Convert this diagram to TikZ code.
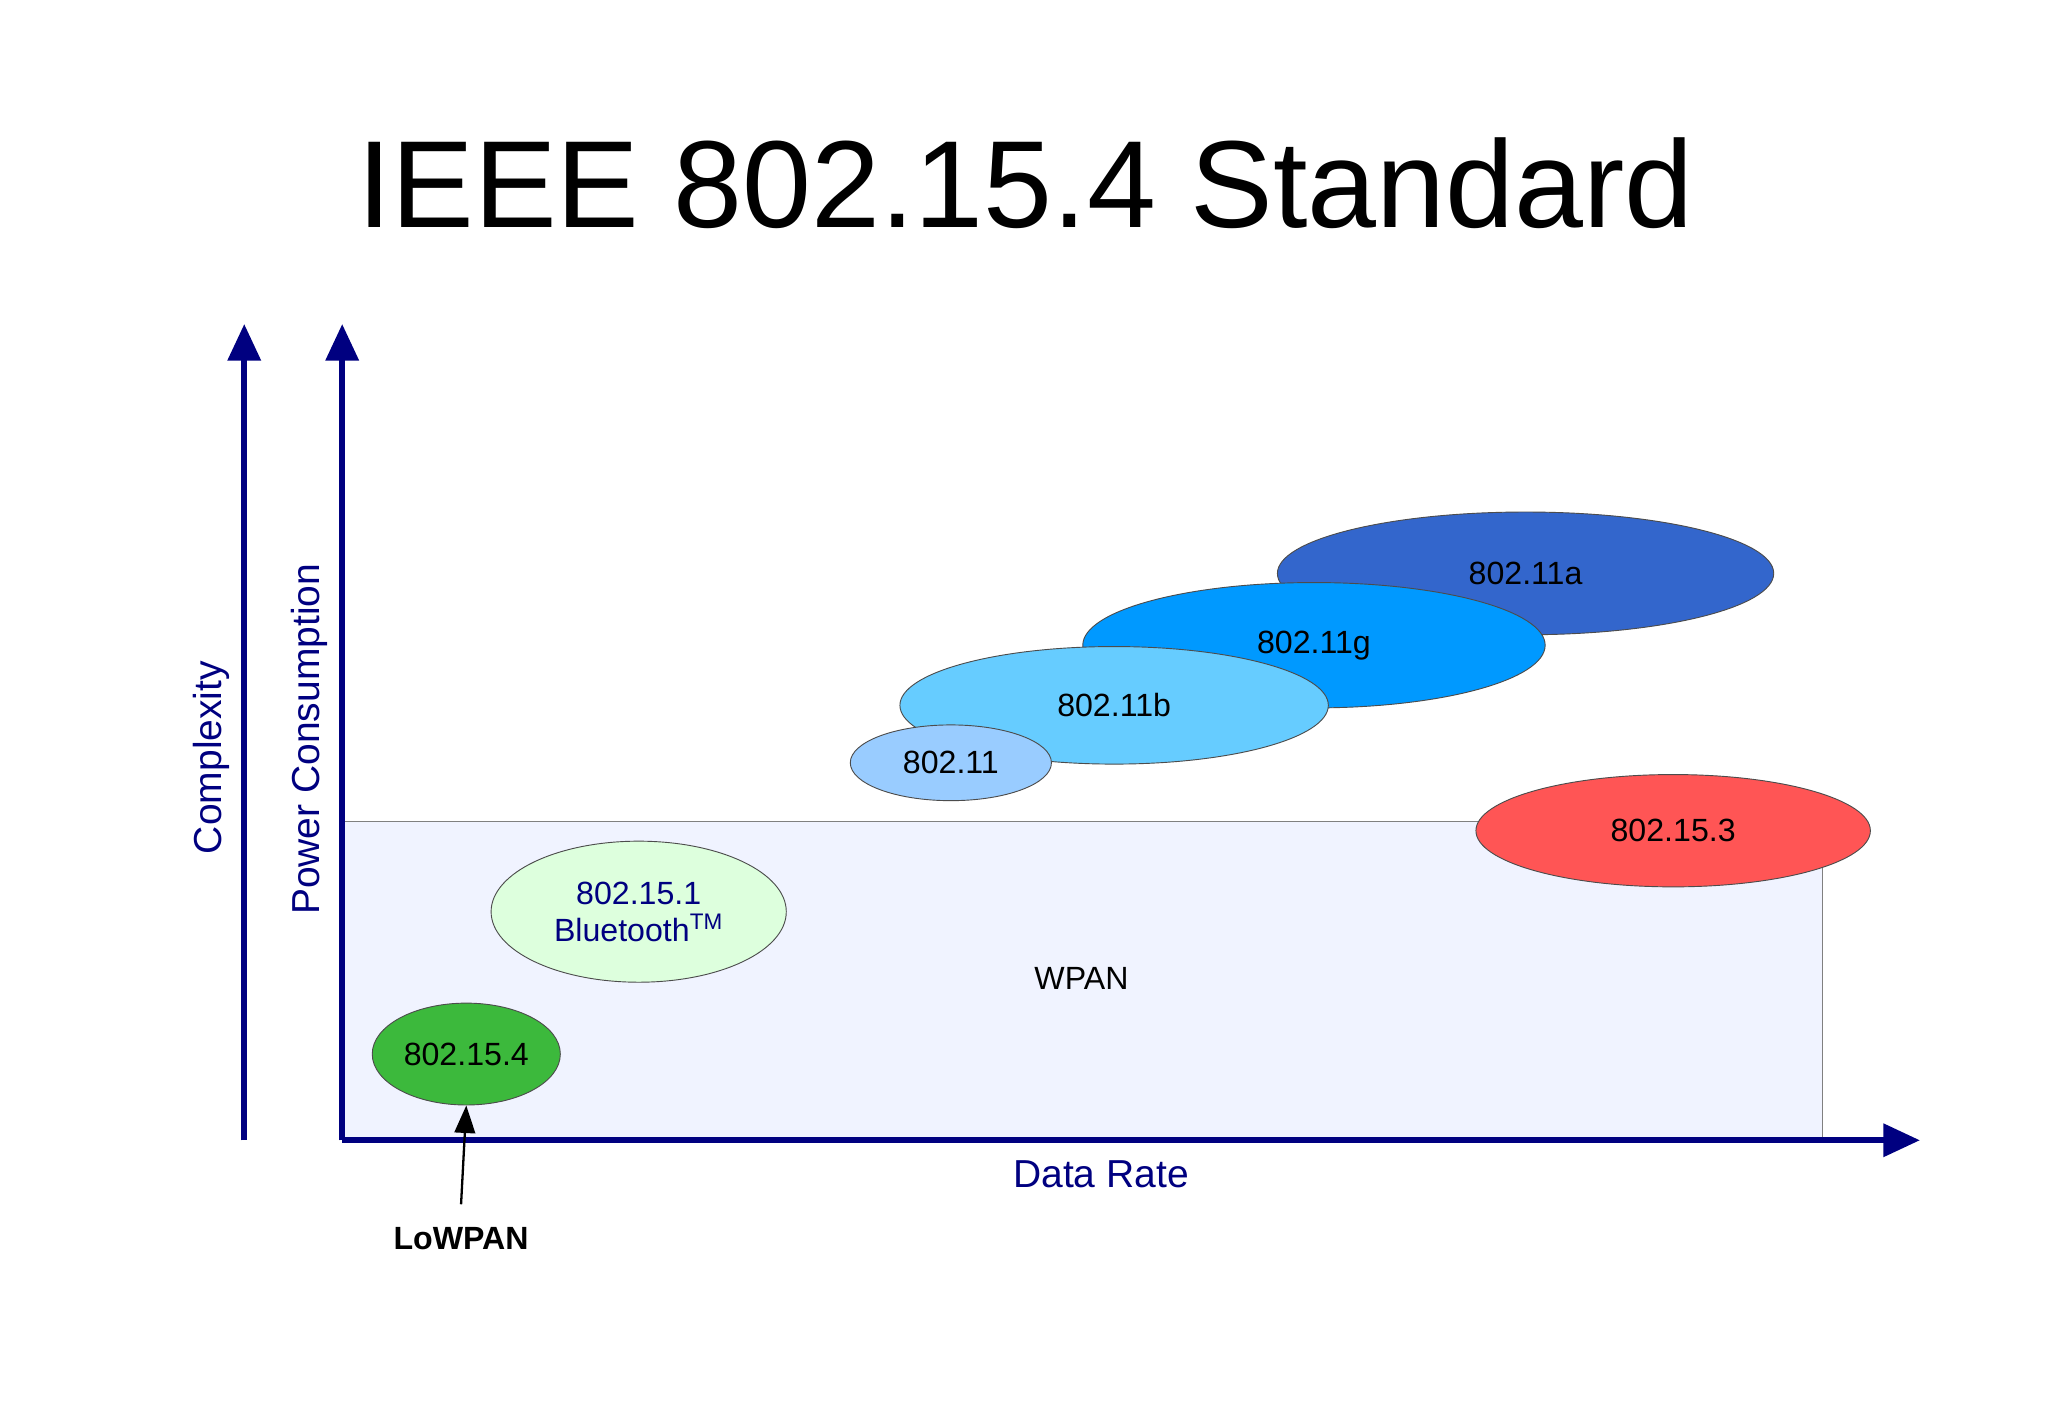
\documentclass[tikz,border=0pt]{standalone}
\usepackage{fontspec}
\setmainfont{Liberation Sans}
\usetikzlibrary{arrows.meta}
\definecolor{navy}{RGB}{0,0,128}
\tikzset{
 ax/.style={draw=navy,line width=2.8pt,-{Triangle[length=16pt,width=14pt]}},
 ell/.style={ellipse,draw=black!70,line width=0.4pt,inner sep=0pt},
 lbl/.style={font=\fontsize{14}{16}\selectfont},
}
\usetikzlibrary{shapes.geometric}
\begin{document}
\begin{tikzpicture}[x=0.02cm,y=-0.02cm]
\useasboundingbox (0,0) rectangle (1568,1086);
\fill[white] (0,0) rectangle (1568,1086);
\node (title) at (785,140) {\fontsize{54}{60}\selectfont IEEE 802.15.4 Standard};
\draw[fill={rgb,255:red,240;green,243;blue,255},draw=black!50,line width=0.4pt] (262,629) rectangle (1395,873);
\node[lbl] (wpan) at (828,749) {WPAN};
\coordinate (c0) at (187,873); \coordinate (c1) at (187,248);
\coordinate (p0) at (262,873); \coordinate (p1) at (262,248);
\coordinate (d1) at (1470,873);
\draw[ax] (c0) -- (c1);
\draw[ax] (p0) -- (p1);
\draw[ax] (p0) -- (d1);
\node[rotate=90,text=navy,font=\fontsize{17}{20}\selectfont] (cx) at (162,580) {Complexity};
\node[rotate=90,text=navy,font=\fontsize{17}{20}\selectfont] (pc) at (237,566) {Power Consumption};
\node[text=navy,font=\fontsize{17}{20}\selectfont] (dr) at (843,899) {Data Rate};
\node[ell,fill={rgb,255:red,51;green,102;blue,204},minimum width=380*0.02cm,minimum height=94*0.02cm] (a) at (1168,439) {};
\node[lbl] at (a) {802.11a};
\node[ell,fill={rgb,255:red,0;green,153;blue,255},minimum width=354*0.02cm,minimum height=96*0.02cm] (g) at (1006,494) {};
\node[lbl] at (g) {802.11g};
\node[ell,fill={rgb,255:red,102;green,204;blue,255},minimum width=328*0.02cm,minimum height=90*0.02cm] (b) at (853,540) {};
\node[lbl] at (b) {802.11b};
\node[ell,fill={rgb,255:red,153;green,204;blue,255},minimum width=154*0.02cm,minimum height=58*0.02cm] (w) at (728,584) {};
\node[lbl] at (w) {802.11};
\node[ell,fill={rgb,255:red,255;green,85;blue,85},minimum width=302*0.02cm,minimum height=86*0.02cm] (t) at (1281,636) {};
\node[lbl] at (t) {802.15.3};
\node[ell,fill={rgb,255:red,221;green,255;blue,221},minimum width=226*0.02cm,minimum height=108*0.02cm] (bt) at (489,698) {};
\node[lbl,text=navy,align=center] at (bt) {802.15.1\\Bluetooth\textsuperscript{TM}};
\node[ell,fill={rgb,255:red,60;green,185;blue,60},minimum width=144*0.02cm,minimum height=78*0.02cm] (z) at (357,807) {};
\node[lbl] at (z) {802.15.4};
\node[font=\bfseries\fontsize{14}{16}\selectfont] (lw) at (353,948) {LoWPAN};
\coordinate (lwt) at (353,922);
\draw[line width=1pt,-{Triangle[length=12pt,width=9pt]}] (lwt) -- (z.south);
\end{tikzpicture}
\end{document}
